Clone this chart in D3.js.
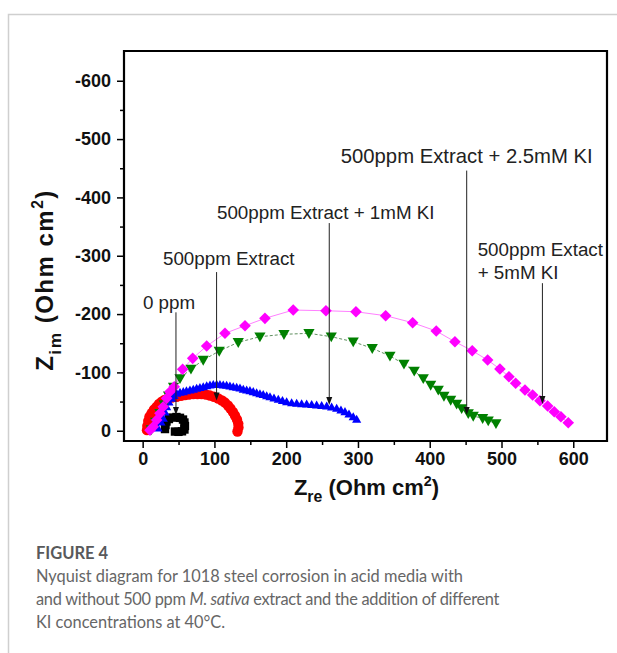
<!DOCTYPE html>
<html><head><meta charset="utf-8">
<script src="https://cdn.jsdelivr.net/npm/d3@7"></script>
<style>body{margin:0;background:#fff}</style>
</head><body><svg id="c" width="617" height="653"></svg>
<script>
// ---- data (Zre, Zim in Ohm cm^2) ----
const xTicks = [0, 100, 200, 300, 400, 500, 600];
const yTicks = [0, -100, -200, -300, -400, -500, -600];

const ppm0 = [[31.1,-2.9],[31.8,-9.8],[33.2,-15.8],[36.6,-20.1],[41.5,-22.6],[47.1,-23.5],[52.0,-22.1],[56.2,-19.2],[58.2,-14.1],[58.9,-8.1],[58.2,-2.1],[54.8,1.0],[49.9,1.9],[45.0,1.4]];

const extract = [[6,-1],[6.5,-8.1],[7.8,-16.6],[9.5,-24.3],[12.5,-30.3],[15.7,-36.3],[19.5,-41.1],[22.7,-45.8],[26.5,-49.7],[30.4,-52.6],[35.7,-55.5],[40.8,-56.9],[47.4,-58.3],[53.4,-59.8],[58.9,-61.2],[64.5,-62.1],[70.5,-62.9],[76.4,-62.9],[82.2,-62.9],[88.2,-62.1],[93.8,-60.3],[99.3,-58.3],[105.3,-55.2],[110.5,-51.8],[114.7,-48.3],[118.9,-43.2],[122.3,-38.1],[125.8,-32.1],[128.6,-26.1],[131.4,-19.2],[133.2,-12.3],[133.5,-5.5],[132.1,1.4]];

const kI1 = [[21.3,-4.6],[25.5,-14.9],[28.7,-21.3],[31.1,-32.1],[33.4,-41.1],[36.6,-49.2],[40.4,-55.5],[43.6,-60.3],[47.4,-64.1],[52.0,-65.8],[56.6,-66.9],[61.0,-68.4],[65.9,-69.8],[70.5,-71.1],[75.2,-72.7],[79.8,-74.1],[84.4,-75.4],[89.2,-77.0],[93.8,-78.3],[98.4,-79.2],[103.1,-79.5],[107.7,-79.2],[112.3,-78.3],[117.0,-77.8],[121.6,-76.6],[126.2,-75.4],[131.0,-74.4],[135.6,-73.2],[140.2,-71.0],[144.9,-69.8],[149.5,-68.6],[154.1,-66.9],[158.8,-65.1],[163.4,-63.4],[168.0,-62.1],[172.8,-60.0],[177.4,-58.3],[183.0,-56.1],[189.0,-53.8],[194.8,-51.8],[200.6,-49.7],[207.6,-48.0],[214.6,-47.0],[221.5,-46.3],[228.5,-45.8],[235.5,-44.9],[242.4,-44.1],[249.4,-43.2],[256.4,-42.3],[263.3,-40.6],[270.3,-38.4],[276.3,-35.5],[281.9,-32.6],[287.5,-28.6],[293.4,-24.0],[298.2,-19.5]];

const kI25 = [[12,-2],[18,-15],[24,-30],[30,-45],[36,-60],[43,-75],[52.0,-89.8],[67.3,-105.8],[84.4,-121.2],[106.7,-136.6],[133.2,-151.6],[163.4,-161.2],[196.9,-165.3],[231.7,-167.0],[262.8,-161.2],[293.4,-152.6],[319.9,-141.3],[344.6,-128.1],[364.1,-114.4],[378.4,-102.4],[391.0,-89.8],[401.3,-78.3],[411.9,-69.8],[419.8,-59.5],[429.2,-52.6],[437.5,-45.8],[444.5,-38.4],[453.7,-29.8],[460.6,-25.2],[473.7,-21.3],[481.5,-17.1],[492.3,-12.7]];

const kI5 = [[10.2,-1],[14.8,-6.9],[19.5,-18.3],[24.1,-29.8],[28.7,-41.1],[33.4,-55.5],[38.0,-66.9],[44.0,-75.4],[55.7,-105.3],[69.7,-124.1],[89.2,-145.2],[114.7,-167.0],[142.6,-180.0],[170.4,-192.7],[209.8,-206.9],[255.4,-205.7],[297.2,-204.0],[338.6,-197.2],[376.2,-185.2],[409.1,-170.9],[435.1,-152.6],[459.2,-137.2],[480.7,-121.2],[497.8,-105.8],[510.4,-92.6],[519.7,-81.3],[532.7,-69.8],[543.4,-61.3],[553.6,-51.4],[564.3,-42.3],[573.5,-32.6],[582.8,-24.0],[593.0,-13.7]];

// annotation labels: text lines, label anchor (Zre, Zim), arrow start and tip (Zre, Zim)
const labels = [
  {lines:["0 ppm"], at:[0.4,-209], from:[46.4,-203], to:[46.4,-27], fs:18.8},
  {lines:["500ppm Extract"], at:[28.3,-284], from:[103,-272], to:[103,-52], fs:18.8},
  {lines:["500ppm Extract + 1mM KI"], at:[103.5,-363], from:[260,-356], to:[260,-44], fs:18.8},
  {lines:["500ppm Extract + 2.5mM KI"], at:[276,-459], from:[451.5,-446], to:[451.5,-27], fs:20.3},
  {lines:["500ppm Extact","+ 5mM KI"], at:[466.8,-299.5], from:[557,-253], to:[557,-46], fs:18.8}
];

// ---- drawing ----
const svg = d3.select("#c");
const L=124, R=607, T=51, B=441;
const x = d3.scaleLinear().domain([-26, 647]).range([L, R]);
const y = d3.scaleLinear().domain([17.6, -651]).range([B, T]);

// card lines
svg.append("path").attr("d","M617,14.5H8.5V653").attr("fill","none").attr("stroke","#cfcfcf").attr("stroke-width",1.5);

const AX = "'Liberation Sans', Arial, sans-serif";

// minor ticks
const xMinor = d3.range(50, 600, 100);
const yMinor = d3.range(-50, -600, -100);
svg.append("g").attr("transform",`translate(0,${B})`)
  .call(d3.axisBottom(x).tickValues(xMinor).tickSize(4).tickFormat(""))
  .call(g=>g.select(".domain").remove())
  .call(g=>g.selectAll("line").attr("stroke-width",1.5));
svg.append("g").attr("transform",`translate(${L},0)`)
  .call(d3.axisLeft(y).tickValues(yMinor).tickSize(4).tickFormat(""))
  .call(g=>g.select(".domain").remove())
  .call(g=>g.selectAll("line").attr("stroke-width",1.5));

const gx = svg.append("g").attr("transform",`translate(0,${B})`)
  .call(d3.axisBottom(x).tickValues(xTicks).tickSize(7).tickPadding(4).tickFormat(d=>String(d)));
gx.select(".domain").remove();
gx.selectAll("line").attr("stroke-width",1.5);
gx.selectAll("text").attr("font-family",AX).attr("font-weight","bold").attr("font-size",18).attr("fill","#111");

const gy = svg.append("g").attr("transform",`translate(${L},0)`)
  .call(d3.axisLeft(y).tickValues(yTicks).tickSize(7).tickPadding(6).tickFormat(d=>String(d)));
gy.select(".domain").remove();
gy.selectAll("line").attr("stroke-width",1.5);
gy.selectAll("text").attr("font-family",AX).attr("font-weight","bold").attr("font-size",18).attr("fill","#111");

// axis titles
function axisTitle(t, sub, fs){
  t.attr("font-family",AX).attr("font-weight","bold").attr("font-size",fs).attr("fill","#111");
  t.append("tspan").text("Z");
  t.append("tspan").attr("font-size",fs*0.72).attr("dy",fs*0.33).text(sub);
  t.append("tspan").attr("dy",-fs*0.33).text(" (Ohm cm");
  t.append("tspan").attr("font-size",fs*0.65).attr("dy",-fs*0.42).text("2");
  t.append("tspan").attr("dy",fs*0.42).text(")");
}
const xt = svg.append("text").attr("x",(L+R)/2+1).attr("y",495).attr("text-anchor","middle");
axisTitle(xt,"re",22);
const yt = svg.append("text").attr("transform","translate(53,280) rotate(-90)").attr("text-anchor","middle");
axisTitle(yt,"im",24);
yt.attr("letter-spacing",1.5);

// connecting lines
const line = d3.line().x(d=>x(d[0])).y(d=>y(d[1]));
svg.append("path").attr("d",line(kI25)).attr("fill","none").attr("stroke","#5f8f5f").attr("stroke-width",1).attr("stroke-dasharray","3,2");
svg.append("path").attr("d",line(kI5)).attr("fill","none").attr("stroke","#ff80ff").attr("stroke-width",1);

// markers
const shapes = {
  square: h=>`M${-h},${-h}H${h}V${h}H${-h}Z`,
  circle: r=>`M${-r},0A${r},${r} 0 1,0 ${r},0A${r},${r} 0 1,0 ${-r},0Z`,
  up: h=>`M0,${-h}L${h*1.0},${h*0.75}L${-h*1.0},${h*0.75}Z`,
  down: h=>`M0,${h}L${h*1.0},${-h*0.75}L${-h*1.0},${-h*0.75}Z`,
  diamond: h=>`M0,${-h}L${h},0L0,${h}L${-h},0Z`
};
const series = [
  {d:ppm0, shape:"square", s:4.2, c:"#000000"},
  {d:extract, shape:"circle", s:5.2, c:"#ff0000"},
  {d:kI1, shape:"up", s:4.6, c:"#0000ff"},
  {d:kI25, shape:"down", s:5.6, c:"#008000"},
  {d:kI5, shape:"diamond", s:5.8, c:"#ff00ff"}
];
series.forEach(sr=>{
  svg.append("g").selectAll("path").data(sr.d).join("path")
    .attr("transform",d=>`translate(${x(d[0])},${y(d[1])})`)
    .attr("d",shapes[sr.shape](sr.s)).attr("fill",sr.c);
});

// annotations
labels.forEach(lb=>{
  const t = svg.append("text").attr("x",x(lb.at[0])).attr("y",y(lb.at[1]))
    .attr("font-family",AX).attr("font-size",lb.fs).attr("fill","#222");
  lb.lines.forEach((s,i)=>t.append("tspan").attr("x",x(lb.at[0])).attr("dy",i?23:0).text(s));
  const x0=x(lb.from[0]), y0=y(lb.from[1]), y1=y(lb.to[1]);
  svg.append("line").attr("x1",x0).attr("x2",x0).attr("y1",y0).attr("y2",y1-6).attr("stroke","#222").attr("stroke-width",1);
  svg.append("path").attr("d",`M${x0},${y1}L${x0-3},${y1-8}L${x0+3},${y1-8}Z`).attr("fill","#111");
});

// frame (drawn last, as one closed path)
svg.append("path")
  .attr("d",`M${L},${T}L${R},${T}L${R},${B}L${L},${B}Z`)
  .attr("fill","none").attr("stroke","#000").attr("stroke-width",2.2);

// caption
const CF = "Lato, 'Open Sans', sans-serif";
svg.append("text").attr("x",36).attr("y",559).attr("font-family",CF).attr("font-weight",700)
  .attr("font-size",16.5).attr("fill","#58595b").text("FIGURE 4");
const cap = svg.append("text").attr("font-family",CF).attr("font-size",17.5).attr("fill","#666");
const l1 = cap.append("tspan").attr("x",36).attr("y",582).text("Nyquist diagram for 1018 steel corrosion in acid media with");
const l2 = cap.append("tspan").attr("x",36).attr("y",605);
l2.append("tspan").text("and without 500 ppm ");
l2.append("tspan").attr("font-style","italic").text("M. sativa");
l2.append("tspan").text(" extract and the addition of different");
const l3 = cap.append("tspan").attr("x",36).attr("y",628).text("KI concentrations at 40°C.");
// fit caption size so the first line spans its measured width
const w1 = l1.node().getComputedTextLength();
if (w1 > 0) cap.attr("font-size", 17.5 * 427 / w1);
const w2 = l2.node().getComputedTextLength();
if (w2 > 0) cap.selectAll("tspan").filter(function(){return this.parentNode===l2.node();}).attr("letter-spacing", (463 - w2) / 66);
</script>
</body></html>
